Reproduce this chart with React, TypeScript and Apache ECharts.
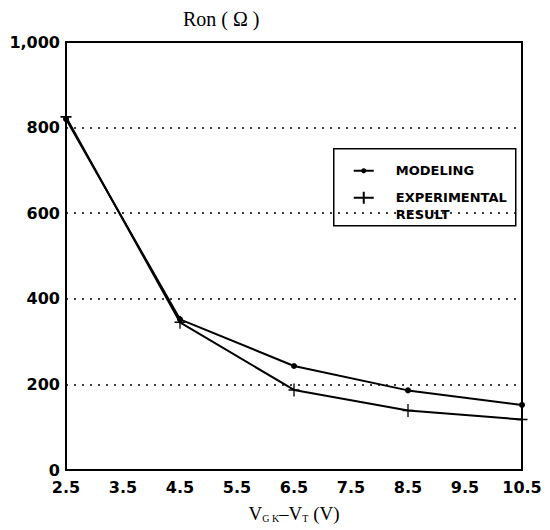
import React, { useEffect, useRef } from "react";
import * as echarts from "echarts";

const xCategories = ["2.5", "3.5", "4.5", "5.5", "6.5", "7.5", "8.5", "9.5", "10.5"];
const pointX = ["2.5", "4.5", "6.5", "8.5", "10.5"];
const modeling = [820, 352, 243, 186, 152];
const experimental = [825, 345, 187, 139, 118];
const yTicks = [0, 200, 400, 600, 800, 1000];
const legendNames = ["MODELING", "EXPERIMENTAL", "RESULT"];
const titleText = "Ron ( \u03A9 )";

const plusPath =
  "path://M-0.6,-5 L0.6,-5 L0.6,-0.6 L5,-0.6 L5,0.6 L0.6,0.6 L0.6,5 L-0.6,5 L-0.6,0.6 L-5,0.6 L-5,-0.6 L-0.6,-0.6 Z";

const SANS = "DejaVu Sans, Liberation Sans, Arial";
const SERIF = "Liberation Serif, Times New Roman, serif";

export default function App() {
  const ref = useRef<HTMLDivElement>(null);
  useEffect(() => {
    if (!ref.current) return;
    const chart = echarts.init(ref.current, undefined, { renderer: "svg" });
    const legendText = (text: string, y: number) => ({
      type: "text",
      x: 62,
      y,
      style: { text, fontFamily: SANS, fontWeight: "bold", fontSize: 13, fill: "#000", verticalAlign: "middle" },
    });
    const option: any = {
      animation: false,
      backgroundColor: "#fff",
      grid: {
        left: 66,
        right: 28,
        top: 42,
        bottom: 60,
        show: true,
        borderColor: "#000",
        borderWidth: 2,
        backgroundColor: "transparent",
      },
      xAxis: {
        type: "category",
        data: xCategories,
        boundaryGap: false,
        axisLine: { show: true, lineStyle: { color: "#000", width: 2 } },
        axisTick: { show: false },
        splitLine: { show: false },
        axisLabel: {
          color: "#000",
          fontFamily: SANS,
          fontWeight: "bold",
          fontSize: 16,
          margin: 9,
          interval: 0,
        },
        name: "{a|V}{s|G K}{a|\u2013V}{s|T}{a| (V)}",
        nameLocation: "middle",
        nameGap: 33,
        nameTextStyle: {
          rich: {
            a: { fontFamily: SERIF, fontSize: 19, color: "#000", verticalAlign: "bottom", lineHeight: 20 },
            s: { fontFamily: SERIF, fontSize: 10, color: "#000", verticalAlign: "bottom", lineHeight: 14 },
          },
        },
      },
      yAxis: {
        type: "value",
        min: yTicks[0],
        max: yTicks[yTicks.length - 1],
        interval: yTicks[1] - yTicks[0],
        axisLine: { show: true, lineStyle: { color: "#000", width: 2 } },
        axisTick: { show: false },
        splitLine: {
          show: true,
          lineStyle: { color: "#000", type: [2, 6], width: 1.5 },
        },
        axisLabel: {
          color: "#000",
          fontFamily: SANS,
          fontWeight: "bold",
          fontSize: 16,
          margin: 6,
          formatter: (v: number) => v.toLocaleString("en-US"),
        },
      },
      graphic: [
        {
          type: "text",
          left: 183,
          top: 9,
          style: {
            text: titleText,
            fontFamily: SERIF,
            fontSize: 20,
            fill: "#000",
          },
        },
        {
          type: "group",
          left: 333,
          top: 148,
          z: 100,
          children: [
            {
              type: "rect",
              shape: { x: 0, y: 0, width: 182, height: 77 },
              style: { fill: "#fff", stroke: "#000", lineWidth: 1.5 },
            },
            { type: "line", shape: { x1: 20, y1: 22, x2: 40, y2: 22 }, style: { stroke: "#000", lineWidth: 2 } },
            { type: "circle", shape: { cx: 30, cy: 22, r: 2.5 }, style: { fill: "#000" } },
            { type: "line", shape: { x1: 20, y1: 49, x2: 40, y2: 49 }, style: { stroke: "#000", lineWidth: 2 } },
            { type: "line", shape: { x1: 30, y1: 43, x2: 30, y2: 55 }, style: { stroke: "#000", lineWidth: 2 } },
            legendText(legendNames[0], 22),
            legendText(legendNames[1], 49),
            legendText(legendNames[2], 66),
          ],
        },
      ],
      series: [
        {
          name: "MODELING",
          type: "line",
          data: pointX.map((x, i) => [x, modeling[i]]),
          symbol: "circle",
          symbolSize: 6,
          itemStyle: { color: "#000" },
          lineStyle: { color: "#000", width: 2 },
          z: 3,
        },
        {
          name: "EXPERIMENTAL RESULT",
          type: "line",
          data: pointX.map((x, i) => [x, experimental[i]]),
          symbol: plusPath,
          symbolSize: [11, 13],
          itemStyle: { color: "#000" },
          lineStyle: { color: "#000", width: 2 },
          z: 3,
        },
      ],
    };
    chart.setOption(option);
    return () => chart.dispose();
  }, []);
  return (
    <div
      ref={ref}
      style={{ position: "absolute", left: 0, top: 0, width: 550, height: 530 }}
    />
  );
}
